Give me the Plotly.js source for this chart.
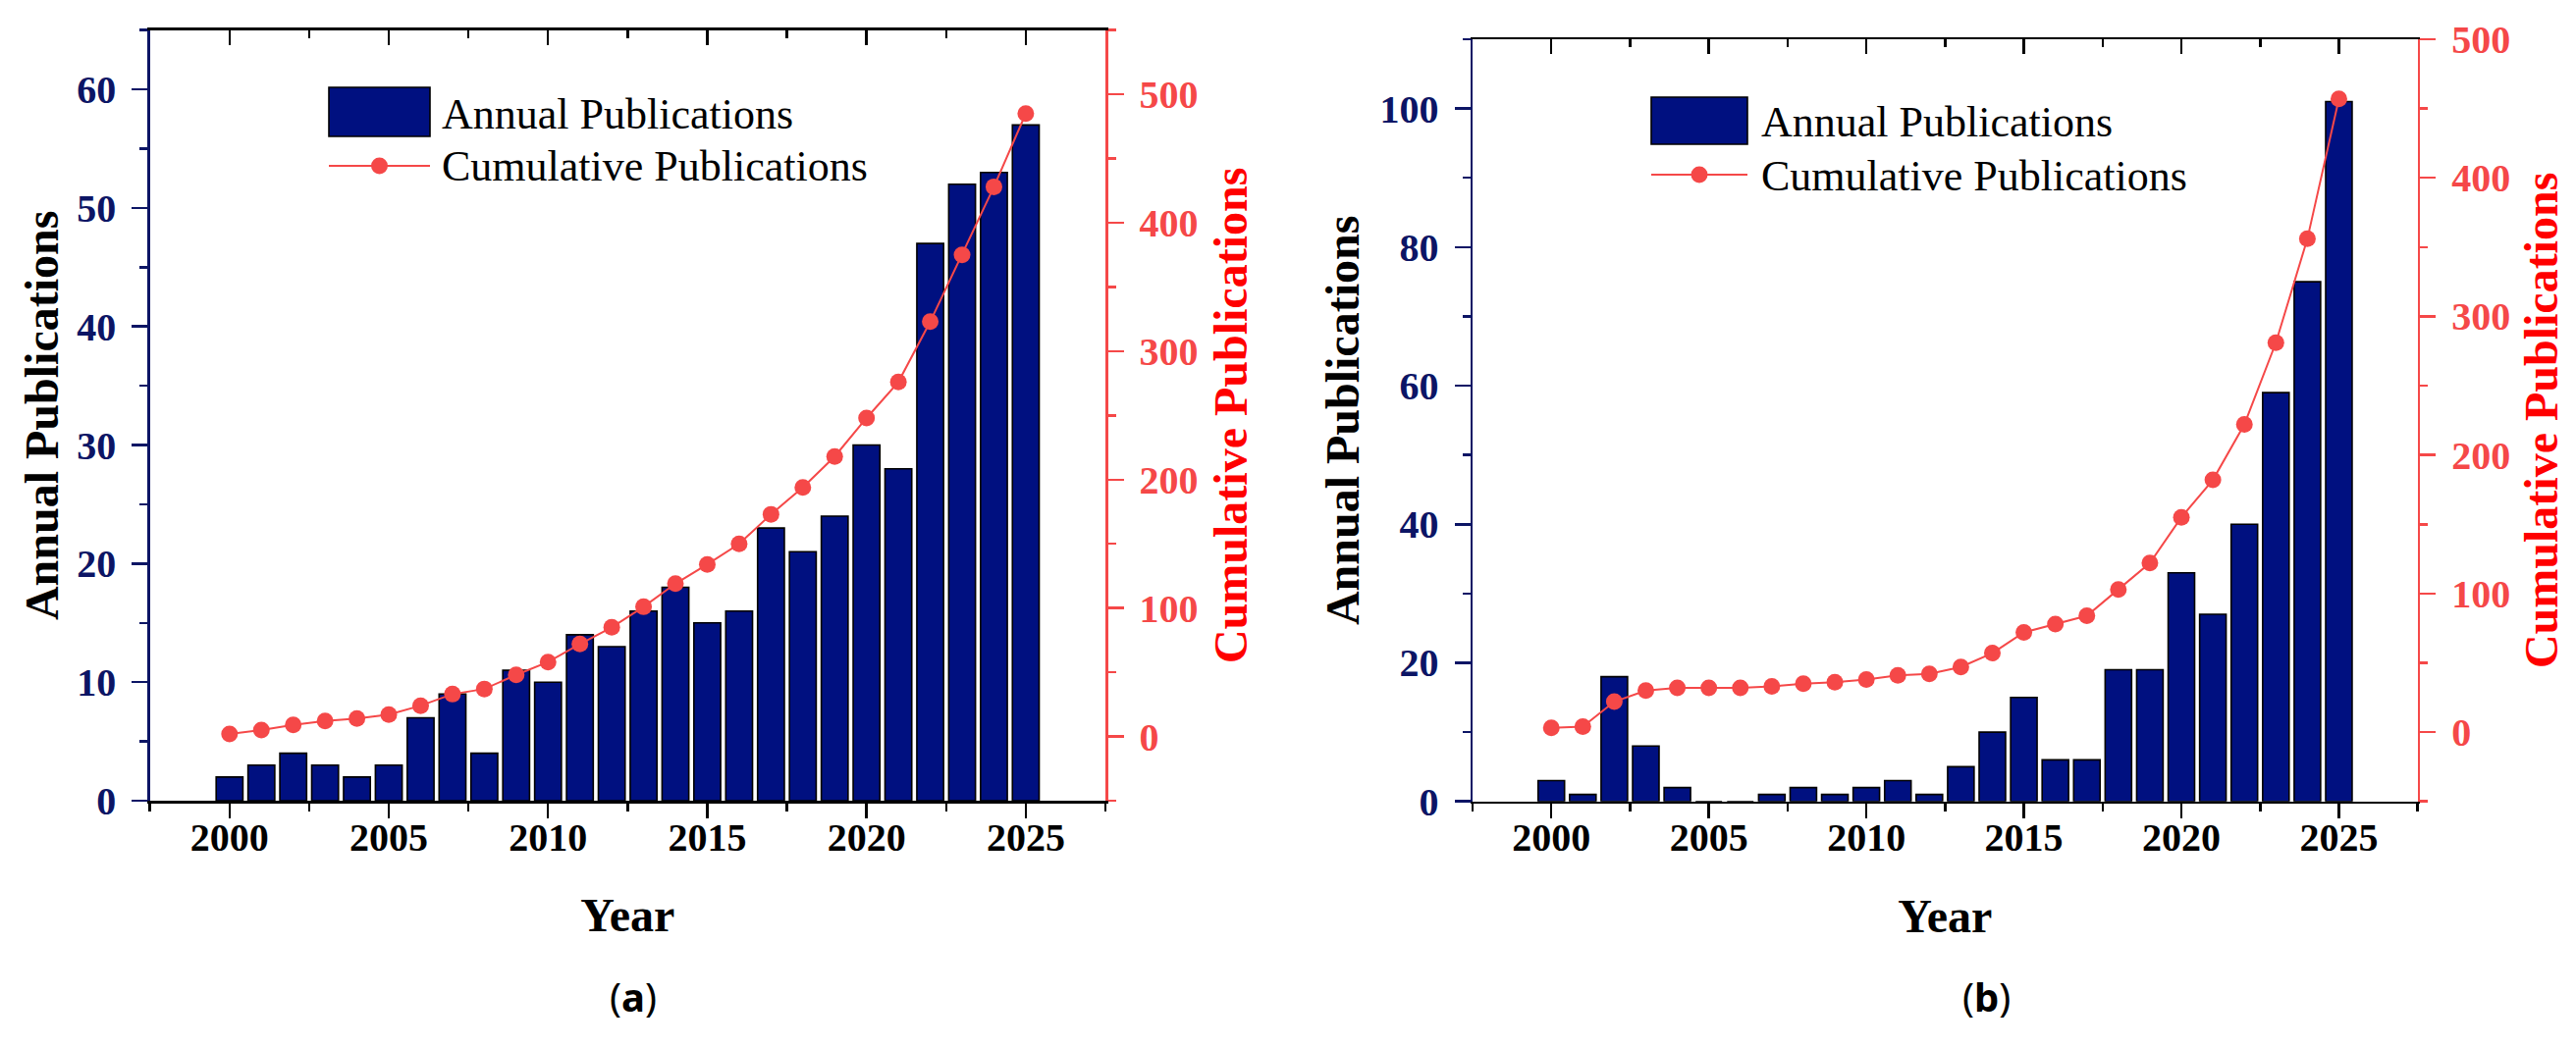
<!DOCTYPE html>
<html>
<head>
<meta charset="utf-8">
<script src="https://cdn.plot.ly/plotly-3.0.1.min.js"></script>
<style>html,body{margin:0;padding:0;background:#fff;}#chart{width:2624px;height:1067px;}</style>
</head>
<body>
<div id="chart"></div>
<script>
// ---- data ----
const years = [2000,2001,2002,2003,2004,2005,2006,2007,2008,2009,2010,2011,2012,2013,2014,2015,2016,2017,2018,2019,2020,2021,2022,2023,2024,2025];
const annualA = [2,3,4,3,2,3,7,9,4,11,10,14,13,16,18,15,16,23,21,24,30,28,47,52,53,57];
const cumulativeA = [2,5,9,12,14,17,24,33,37,48,58,72,85,101,119,134,150,173,194,218,248,276,323,375,428,485];
const annualB = [3,1,18,8,2,0,0,1,2,1,2,3,1,5,10,15,6,6,19,19,33,27,40,59,75,101];
const cumulativeB = [3,4,22,30,32,32,32,33,35,36,38,41,42,47,57,72,78,84,103,122,155,182,222,281,356,457];
const xTickVals = [2000,2005,2010,2015,2020,2025];
const yTicksA = [0,10,20,30,40,50,60];
const yTicksB = [0,20,40,60,80,100];
const cumTicksA = [0,100,200,300,400,500];
const cumTicksB = [0,100,200,300,400,500];
const seriesNames = ['Annual Publications','Cumulative Publications'];
const panelLabels = ['(<b>a</b>)','(<b>b</b>)'];

// ---- style ----
const W = 2624, H = 1067;
const SERIF = 'Liberation Serif, Times New Roman, serif';
const NAVY = '#0C1565';
const BAR = '#001080';
const RED = '#F54848';
const RED_TITLE = '#FF0000';
const px = v => v / W;
const py = v => 1 - v / H;
const bold = arr => arr.map(v => '<b>' + v + '</b>');

const barStyle = {color: BAR, line: {color: '#000', width: 1.6}};
const lineStyle = {color: RED, width: 2};
const markerStyle = {color: RED, size: 17};

const traces = [
  {type:'bar', x: years, y: annualA, name: seriesNames[0], xaxis:'x', yaxis:'y', width:0.84, marker: barStyle, showlegend:false},
  {type:'scatter', mode:'lines+markers', x: years, y: cumulativeA, name: seriesNames[1], xaxis:'x3', yaxis:'y2', line: lineStyle, marker: markerStyle, showlegend:false},
  {type:'bar', x: years, y: annualB, name: seriesNames[0], xaxis:'x2', yaxis:'y3', width:0.84, marker: barStyle, showlegend:false},
  {type:'scatter', mode:'lines+markers', x: years, y: cumulativeB, name: seriesNames[1], xaxis:'x4', yaxis:'y4', line: lineStyle, marker: markerStyle, showlegend:false}
];

const tickFont = c => ({family: SERIF, size: 40, color: c});
const titleFont = c => ({family: SERIF, size: 48, color: c, weight: 'bold'});
const XR = [1997.5, 2027.5];

function xAxis(domain, anchor) {
  return {
    domain: domain, anchor: anchor, range: XR,
    tickmode: 'array', tickvals: xTickVals, ticktext: bold(xTickVals),
    ticks: 'outside', ticklen: 15, tickwidth: 2.5, tickcolor: '#000',
    minor: {dtick: 2.5, tick0: 1997.5, ticks: 'outside', ticklen: 8, tickwidth: 2.5, tickcolor: '#000'},
    showline: true, linecolor: '#000', linewidth: 2.5,
    showgrid: false, zeroline: false,
    tickfont: tickFont('#000'), ticklabelstandoff: -15,
    title: {text: '<b>Year</b>', font: titleFont('#000'), standoff: 41}
  };
}
function xTop(over, anchor) {
  return {
    overlaying: over, anchor: anchor, side: 'top', range: XR,
    tickmode: 'array', tickvals: xTickVals,
    ticks: 'inside', ticklen: 15, tickwidth: 2.5, tickcolor: '#000',
    minor: {dtick: 2.5, tick0: 1997.5, ticks: 'inside', ticklen: 8, tickwidth: 2.5, tickcolor: '#000'},
    showline: true, linecolor: '#000', linewidth: 2.5,
    showticklabels: false, showgrid: false, zeroline: false
  };
}
function yLeft(domain, anchor, range, ticks, standoff) {
  const d = ticks[1] - ticks[0];
  return {
    domain: domain, anchor: anchor, range: range,
    tickmode: 'array', tickvals: ticks, ticktext: bold(ticks),
    ticks: 'outside', ticklen: 16, tickwidth: 2.5, tickcolor: NAVY,
    minor: {dtick: d/2, tick0: 0, ticks: 'outside', ticklen: 8, tickwidth: 2.5, tickcolor: NAVY},
    showline: true, linecolor: NAVY, linewidth: 2.5,
    showgrid: false, zeroline: false,
    tickfont: tickFont(NAVY), ticklabelstandoff: 8,
    title: {text: '<b>Annual Publications</b>', font: titleFont('#000'), standoff: standoff}
  };
}
function yRight(over, anchor, range, ticks, standoff) {
  return {
    overlaying: over, anchor: anchor, side: 'right', range: range,
    tickmode: 'array', tickvals: ticks, ticktext: bold(ticks),
    ticks: 'outside', ticklen: 16, tickwidth: 2.5, tickcolor: RED,
    minor: {dtick: 50, tick0: 0, ticks: 'outside', ticklen: 8, tickwidth: 2.5, tickcolor: RED},
    showline: true, linecolor: RED, linewidth: 2.5,
    showgrid: false, zeroline: false,
    tickfont: tickFont(RED), ticklabelstandoff: 8,
    title: {text: '<b>Cumulative Publications</b>', font: titleFont(RED_TITLE), standoff: standoff}
  };
}

const domAx = [px(152.7), px(1126)];
const domAy = [py(816), py(30.7)];
const domBx = [px(1500), px(2462.7)];
const domBy = [py(816.7), py(40)];

// custom legends (large patches as in the reference)
function legendShapes(x0, x1, yBar0, yBar1, yLine) {
  const cx = (x0 + x1) / 2, r = 8.5;
  return [
    {type:'rect', xref:'paper', yref:'paper', x0: px(x0), x1: px(x1), y0: py(yBar1), y1: py(yBar0), fillcolor: BAR, line:{color:'#000', width:1.6}},
    {type:'line', xref:'paper', yref:'paper', x0: px(x0), x1: px(x1), y0: py(yLine), y1: py(yLine), line:{color: RED, width: 2}},
    {type:'circle', xref:'paper', yref:'paper', x0: px(cx - r), x1: px(cx + r), y0: py(yLine + r), y1: py(yLine - r), fillcolor: RED, line:{color: RED, width: 0}}
  ];
}
function legendText(x, yA, yC) {
  const f = {family: SERIF, size: 44, color: '#000'};
  return [
    {xref:'paper', yref:'paper', x: px(x), y: py(yA), xanchor:'left', yanchor:'middle', text: seriesNames[0], showarrow:false, font: f},
    {xref:'paper', yref:'paper', x: px(x), y: py(yC), xanchor:'left', yanchor:'middle', text: seriesNames[1], showarrow:false, font: f}
  ];
}

const layout = {
  width: W, height: H,
  margin: {l:0, r:0, t:0, b:0},
  paper_bgcolor: '#fff', plot_bgcolor: '#fff',
  showlegend: false,
  bargap: 0,
  xaxis: xAxis(domAx, 'y'),
  yaxis: yLeft(domAy, 'x', [0, 65], yTicksA, 4),
  xaxis3: xTop('x', 'y2'),
  yaxis2: yRight('y', 'x3', [-50, 550], cumTicksA, 17),
  xaxis2: xAxis(domBx, 'y3'),
  yaxis3: yLeft(domBy, 'x2', [0, 110], yTicksB, 6),
  xaxis4: xTop('x2', 'y4'),
  yaxis4: yRight('y3', 'x4', [-50, 500], cumTicksB, 15),
  shapes: [].concat(
    legendShapes(335, 438, 89, 139, 169),
    legendShapes(1682, 1780, 99, 147, 178)
  ),
  annotations: [].concat(
    legendText(448, 116, 170),
    legendText(1792, 125, 179),
    [
      {xref:'paper', yref:'paper', x: px(645), y: py(1015), xanchor:'center', yanchor:'middle', text: panelLabels[0], showarrow:false, font:{family:'Noto Sans, DejaVu Sans, sans-serif', size:40, color:'#000'}},
      {xref:'paper', yref:'paper', x: px(2023), y: py(1015), xanchor:'center', yanchor:'middle', text: panelLabels[1], showarrow:false, font:{family:'Noto Sans, DejaVu Sans, sans-serif', size:40, color:'#000'}}
    ]
  )
};

Plotly.newPlot('chart', traces, layout, {displayModeBar: false, staticPlot: true});
</script>
</body>
</html>
